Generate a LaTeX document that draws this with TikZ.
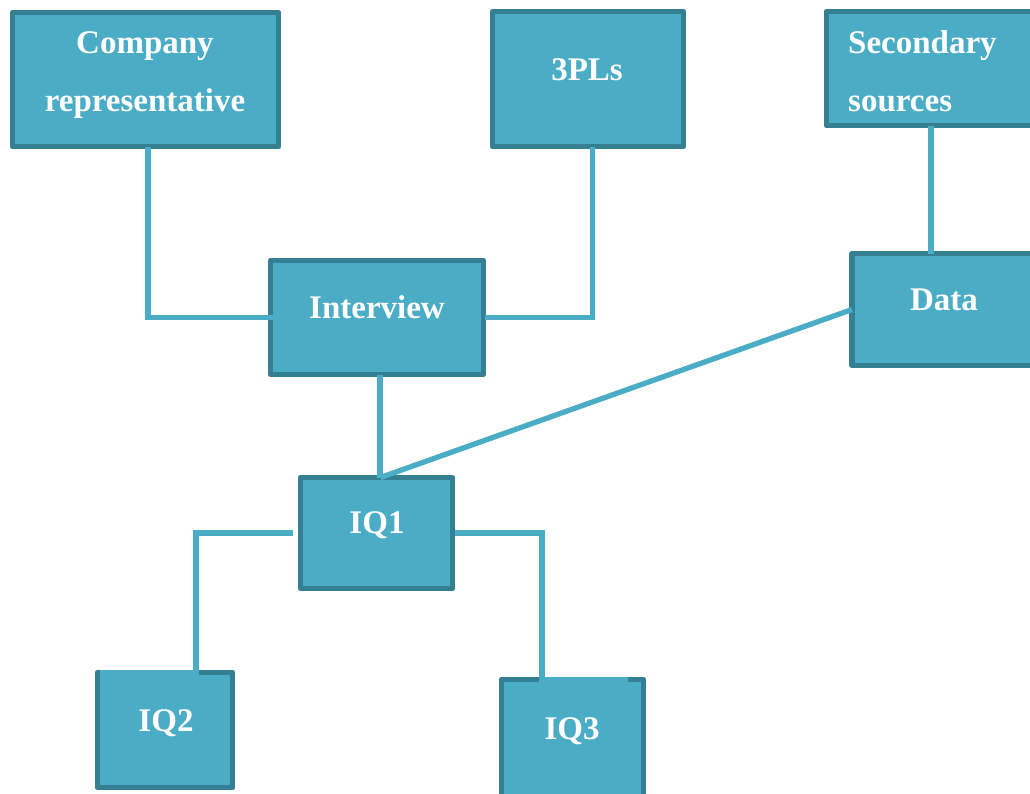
\documentclass[tikz,border=0pt]{standalone}
\usepackage{fontspec}
\setmainfont{Liberation Serif}
\definecolor{boxfill}{HTML}{4BACC6}
\definecolor{boxline}{HTML}{357F92}
\definecolor{conn}{HTML}{4BACC6}
\begin{document}
\begin{tikzpicture}[x=1pt,y=-1pt,
  box/.style={draw=boxline, fill=boxfill, line width=5.5pt, line join=round,
              inner sep=0pt, outer sep=0pt},
  lbl/.style={text=white, font=\fontsize{33}{40}\selectfont\bfseries, anchor=base, inner sep=0pt},
  lbll/.style={lbl, anchor=base west},
  link/.style={draw=conn, line width=5.3pt}]
\useasboundingbox (0,0) rectangle (1030,793);
\clip (0,0) rectangle (1030,793);
% boxes
\node[box, minimum width=266pt, minimum height=134pt] (cr)  at (145.5,79.5) {};
\node[box, minimum width=191pt, minimum height=135pt] (tpl) at (588,79) {};
\node[box, minimum width=213pt, minimum height=114pt] (sec) at (933,68.5) {};
\node[box, minimum width=213pt, minimum height=114pt] (int) at (377,317.5) {};
\node[box, minimum width=188pt, minimum height=112pt] (dat) at (946,309.5) {};
\node[box, minimum width=152pt, minimum height=111pt] (iqa) at (376.5,533) {};
\node[box, minimum width=135pt, minimum height=115pt] (iqb) at (165,730) {};
\node[box, minimum width=142pt, minimum height=121pt] (iqc) at (572.5,740) {};
% labels
\node[lbl] (crt1) at (145,53) {Company};
\node[lbl] (crt2) at (145,111) {representative};
\node[lbl] (tplt) at (587,80) {3PLs};
\node[lbll] (sect1) at (848,53) {Secondary};
\node[lbll] (sect2) at (848,111) {sources};
\node[lbl] (intt) at (377,318) {Interview};
\node[lbl] (datt) at (944,310) {Data};
\node[lbl] (iqat) at (377,533) {IQ1};
\node[lbl] (iqbt) at (166,731) {IQ2};
\node[lbl] (iqct) at (572,739) {IQ3};
% connectors
\draw[link] ([xshift=2.5pt]cr.south) |- ([xshift=6pt]int.west);
\draw[link] ([xshift=4.5pt]tpl.south) |- ([xshift=1.5pt]int.east);
\draw[link] ([xshift=-2pt]sec.south) -- ([xshift=-2pt]sec.south |- dat.north);
\draw[link] ([xshift=3pt]int.south) -- ([xshift=3pt]int.south |- iqa.north);
\draw[link] (dat.west) -- ([xshift=4pt]iqa.north);
\draw[link] ([xshift=-8pt]iqa.west) -| ([xshift=31pt]iqb.north) -- ([xshift=-65pt]iqb.north);
\draw[link] ([xshift=2pt]iqa.east) -| ([xshift=-30.5pt]iqc.north) -- ([xshift=55.5pt]iqc.north);
\end{tikzpicture}
\end{document}
